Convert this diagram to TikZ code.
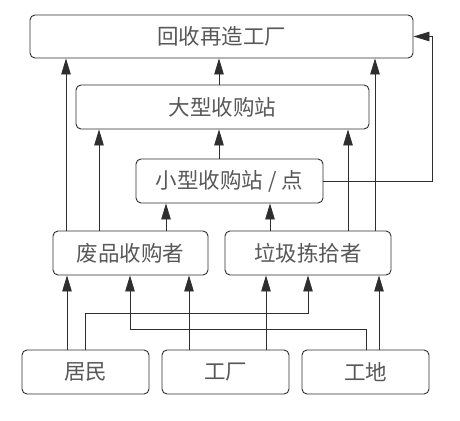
\documentclass[tikz,border=0pt]{standalone}
\usepackage{fontspec}
\newfontfamily\cjk{Noto Sans CJK SC}
\usetikzlibrary{arrows.meta}
\definecolor{linec}{HTML}{2E2E2E}
\definecolor{textc}{HTML}{585858}
\tikzset{
  boxst/.style={draw=linec, line width=0.9pt, rounded corners=5pt, inner sep=0pt,
    font=\cjk\fontsize{21.5}{23}\selectfont, text=textc, minimum height=44pt},
  arr/.style={draw=linec, line width=0.8pt, -{Triangle[length=16pt,width=9.5pt]}},
}
\begin{document}
\begin{tikzpicture}[x=1pt,y=-1pt]
\useasboundingbox (0,0) rectangle (460,420);
\fill[white] (0,0) rectangle (460,420);
% boxes
\node[boxst, minimum width=383pt, minimum height=43pt] (top) at (221.5,36.5) {回收再造工厂};
\node[boxst, minimum width=293pt] (large) at (222.5,107) {大型收购站};
\node[boxst, minimum width=187pt] (small) at (229.5,181) {小型收购站 / 点};
\node[boxst, minimum width=155pt] (fp) at (130.5,253) {废品收购者};
\node[boxst, minimum width=166pt] (lj) at (308,253) {垃圾拣拾者};
\node[boxst, minimum width=127pt] (jm) at (85.5,372) {居民};
\node[boxst, minimum width=127pt] (gc) at (225.5,372) {工厂};
\node[boxst, minimum width=127pt] (gd) at (365.5,372) {工地};
% column helpers
\foreach \c in {66,99,166,219,270,348,375,67,85,130,189,266,308,366,379,432}
  \coordinate (c\c) at (\c,0);
\coordinate (r1) at (0,313);
\coordinate (r2) at (0,329);
% upper connectors
\draw[arr] (fp.north -| c66) -- (top.south -| c66);
\draw[arr] (fp.north -| c99) -- (large.south -| c99);
\draw[arr] (fp.north -| c166) -- (small.south -| c166);
\draw[arr] (lj.north -| c270) -- (small.south -| c270);
\draw[arr] (lj.north -| c348) -- (large.south -| c348);
\draw[arr] (lj.north -| c375) -- (top.south -| c375);
\draw[arr] (small.north -| c219) -- (large.south -| c219);
\draw[arr] (large.north -| c219) -- (top.south -| c219);
\draw[arr] (small.east) -- (small.east -| c432) -- (top.east -| c432) -- (top.east);
% lower connectors
\draw[arr] (jm.north -| c67) -- (fp.south -| c67);
\draw[arr] (jm.north -| c85) -- (r1 -| c85) -- (r1 -| c308) -- (lj.south -| c308);
\draw[arr] (gd.north -| c366) -- (r2 -| c366) -- (r2 -| c130) -- (fp.south -| c130);
\draw[arr] (gc.north -| c189) -- (fp.south -| c189);
\draw[arr] (gc.north -| c266) -- (lj.south -| c266);
\draw[arr] (gd.north -| c379) -- (lj.south -| c379);
\end{tikzpicture}
\end{document}
